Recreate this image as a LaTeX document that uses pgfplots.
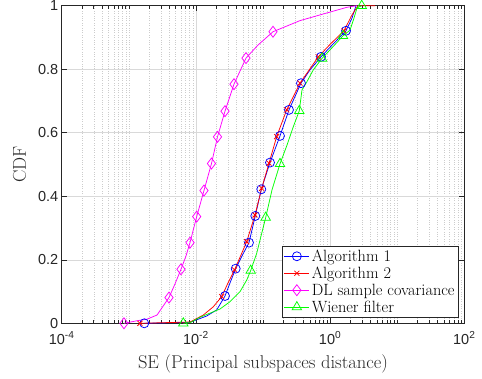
\documentclass[border=0pt]{standalone}
\usepackage{fontspec}
\usepackage{pgfplots}
\pgfplotsset{compat=1.18}
\newfontfamily\tickfont{Liberation Sans}
\definecolor{axgray}{rgb}{0.15,0.15,0.15}
\definecolor{mblue}{rgb}{0,0,1}
\definecolor{mred}{rgb}{1,0,0}
\definecolor{mmag}{rgb}{1,0,1}
\definecolor{mgreen}{rgb}{0,1,0}
\pgfplotsset{linemark legend/.style={legend image code/.code={
   \draw[##1,mark=none] (0cm,0cm) -- (0.88cm,0cm);
   \draw[##1] plot coordinates {(0.44cm,0cm)};
}}}
\begin{document}
\begin{tikzpicture}
\path[use as bounding box] (-61.7pt,-55.7pt) rectangle (420.3pt,323.3pt);
\begin{axis}[
 anchor=south west, at={(0,0)},
 scale only axis, width=402.6pt, height=317.6pt,
 xmode=log, xmin=1e-4, xmax=1e2, ymin=0, ymax=1,
 clip=false,
 xtick={1e-4,1e-2,1,1e2},
 xticklabels={10\textsuperscript{-4},10\textsuperscript{-2},10\textsuperscript{0},10\textsuperscript{2}},
 minor xtick={2e-4,3e-4,4e-4,5e-4,6e-4,7e-4,8e-4,9e-4,1e-3,2e-3,3e-3,4e-3,5e-3,6e-3,7e-3,8e-3,9e-3,
   2e-2,3e-2,4e-2,5e-2,6e-2,7e-2,8e-2,9e-2,1e-1,2e-1,3e-1,4e-1,5e-1,6e-1,7e-1,8e-1,9e-1,
   2,3,4,5,6,7,8,9,10,20,30,40,50,60,70,80,90},
 ytick={0,0.2,0.4,0.6,0.8,1},
 yticklabels={0,0.2,0.4,0.6,0.8,1},
 tick align=inside,
 major tick length=5pt, minor tick length=3pt,
 grid=both,
 major grid style={color=black!15, line width=0.5pt},
 minor grid style={color=black!20, dotted, line width=0.4pt},
 axis line style={axgray, line width=0.5pt},
 tick style={axgray, line width=0.5pt},
 tick label style={font=\tickfont\fontsize{14.5}{14.5}\selectfont, text=axgray},
 xticklabel style={yshift=-5pt},
 xlabel={SE (Principal subspaces distance)}, ylabel={CDF},
 label style={font=\fontsize{18.5}{22}\selectfont, text=axgray},
 xlabel style={yshift=-3pt},
 ylabel style={yshift=5pt},
 legend style={at={(0.985,0.019)}, anchor=south east, font=\fontsize{16.3}{18}\selectfont,
   draw=axgray, fill=white, inner sep=1.5pt, row sep=0pt},
 legend cell align=left,
 every axis plot/.append style={line width=0.75pt},
]
% Algorithm 1
\addplot[mblue, forget plot] coordinates {(1.702e-3,0) (8.17e-3,0.003) (0.01449,0.023) (0.02042,0.042) (0.02715,0.086) (0.03223,0.127) (0.03918,0.172) (0.04864,0.212) (0.06185,0.254) (0.07677,0.338) (0.09434,0.422) (0.1272,0.506) (0.1792,0.590) (0.2440,0.672) (0.3683,0.756) (0.5017,0.798) (0.7318,0.839) (1.105,0.879) (1.726,0.921) (2.121,0.961) (2.432,1)};
\addplot[mblue, only marks, mark=o, mark size=4.5pt, linemark legend] coordinates {(1.702e-3,0) (0.02715,0.086) (0.03918,0.172) (0.06185,0.254) (0.07677,0.338) (0.09434,0.422) (0.1272,0.506) (0.1792,0.590) (0.2440,0.672) (0.3683,0.756) (0.7318,0.839) (1.726,0.921)};
\addlegendentry{Algorithm 1}
% Algorithm 2
\addplot[mred, forget plot] coordinates {(1.468e-3,0) (8.17e-3,0.004) (0.01289,0.026) (0.01817,0.052) (0.02424,0.084) (0.03009,0.127) (0.03760,0.168) (0.04699,0.215) (0.05717,0.257) (0.07600,0.341) (0.09563,0.425) (0.1229,0.504) (0.1600,0.588) (0.2255,0.672) (0.3558,0.756) (0.6669,0.839) (0.9966,0.878) (1.611,0.921) (2.121,0.971) (2.605,1) (4.67,1)};
\addplot[mred, only marks, mark=x, mark size=3.5pt, linemark legend] coordinates {(1.468e-3,0) (0.02424,0.084) (0.03760,0.168) (0.05717,0.257) (0.07600,0.341) (0.09563,0.425) (0.1229,0.504) (0.1600,0.588) (0.2255,0.672) (0.3558,0.756) (0.6669,0.839) (1.611,0.921)};
\addlegendentry{Algorithm 2}
% DL sample covariance
\addplot[mmag, forget plot] coordinates {(8.48e-4,0) (1.325e-3,0.008) (1.867e-3,0.013) (2.633e-3,0.026) (3.973e-3,0.081) (4.882e-3,0.124) (5.995e-3,0.170) (7.12e-3,0.212) (8.17e-3,0.254) (0.01028,0.336) (0.01320,0.418) (0.01708,0.503) (0.02099,0.587) (0.02715,0.668) (0.03696,0.753) (0.05579,0.835) (0.0842,0.876) (0.1409,0.918) (0.3558,0.953) (0.7070,0.971) (1.786,0.995) (2.517,1)};
\addplot[mmag, only marks, mark=diamond, mark size=5.5pt, linemark legend] coordinates {(8.48e-4,0) (3.973e-3,0.081) (5.995e-3,0.170) (8.17e-3,0.254) (0.01028,0.336) (0.01320,0.418) (0.01708,0.503) (0.02099,0.587) (0.02715,0.668) (0.03696,0.753) (0.05579,0.835) (0.1409,0.918)};
\addlegendentry{DL sample covariance}
% Wiener filter
\addplot[mgreen, forget plot] coordinates {(6.49e-3,0) (8.17e-3,0.002) (0.01151,0.019) (0.02286,0.045) (0.03223,0.068) (0.04542,0.0995) (0.05717,0.136) (0.06556,0.166) (0.08054,0.220) (0.09563,0.283) (0.1097,0.333) (0.1362,0.420) (0.1792,0.502) (0.2279,0.561) (0.2829,0.619) (0.3475,0.669) (0.3813,0.735) (0.4525,0.761) (0.5618,0.798) (0.7575,0.834) (1.105,0.871) (1.557,0.905) (1.980,0.923) (2.271,0.961) (2.517,0.993) (2.958,1)};
\addplot[mgreen, only marks, mark=triangle, mark size=5.5pt, linemark legend] coordinates {(6.49e-3,0) (0.06556,0.166) (0.1097,0.333) (0.1792,0.502) (0.3475,0.669) (0.7575,0.834) (1.557,0.905) (2.958,1)};
\addlegendentry{Wiener filter}
\end{axis}
\end{tikzpicture}
\end{document}
